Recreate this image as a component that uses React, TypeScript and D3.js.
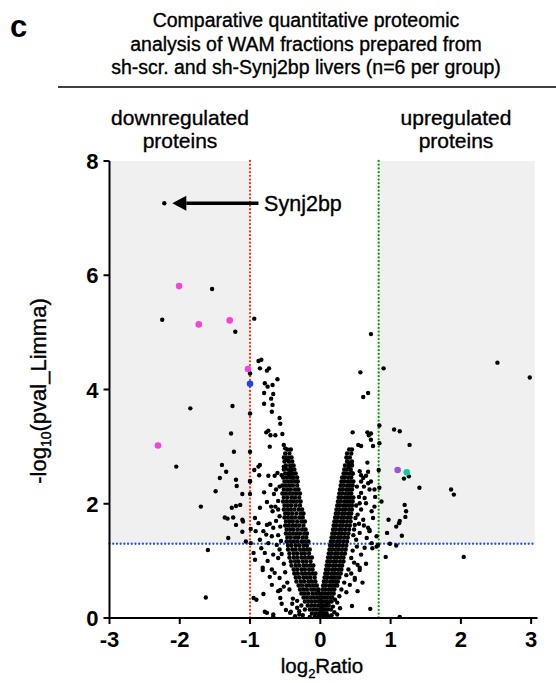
import * as d3 from "d3";

const xTicks = [-3, -2, -1, 0, 1, 2, 3];
const yTicks = [0, 2, 4, 6, 8];
const downCut = -1;
const upCut = 0.83;
const pCut = 1.3;

const titleLines = [
  "Comparative quantitative proteomic",
  "analysis of WAM fractions prepared from",
  "sh-scr. and sh-Synj2bp livers (n=6 per group)",
];

const synj2bp: [number, number] = [-2.22, 7.26];
const magentaHits: [number, number][] = [[-2.01, 5.81], [-1.73, 5.14], [-1.29, 5.21], [-1.03, 4.36], [-2.31, 3.02]];
const blueHits: [number, number][] = [[-1.0, 4.1]];
const purpleHits: [number, number][] = [[1.1, 2.59]];
const tealHits: [number, number][] = [[1.23, 2.55]];

// loose points outside the dense V
const scattered: [number, number][] = [
  [-1.54, 5.76], [-2.25, 5.22], [-1.21, 5.01], [-0.94, 5.24], [-1.0, 4.28], [-1.85, 3.67], [-1.25, 3.71],
  [-1.27, 3.23], [-1.23, 2.91], [-2.05, 2.65], [-1.4, 2.68], [-1.34, 2.56], [-1.43, 2.45], [-1.2, 2.42],
  [-1.19, 2.31], [-1.49, 2.22], [-1.11, 2.17], [-1.0, 2.91], [-1.0, 3.58], [-1.0, 2.4], [-1.0, 2.17],
  [-1.7, 1.95], [-1.26, 1.93], [-1.2, 1.96], [-1.14, 1.98], [-1.36, 1.76], [-1.32, 1.74], [-1.24, 1.76],
  [-1.2, 1.63], [-1.11, 1.72], [-1.1, 1.69], [-1.11, 1.51], [-1.31, 1.4], [-1.06, 1.34], [-1.6, 1.19],
  [-1.63, 0.36], [-0.99, 1.56], [-0.99, 1.31],
  [-0.88, 4.5], [-0.84, 4.52], [-0.86, 4.37], [-0.76, 4.33], [-0.73, 4.37], [-0.61, 4.18], [-0.79, 4.11],
  [-0.75, 4.05], [-0.68, 4.08], [-0.8, 3.94], [-0.67, 3.92], [-0.7, 3.84], [-0.8, 3.75], [-0.68, 3.73],
  [-0.69, 3.61], [-0.58, 3.5], [-0.57, 3.4], [-0.77, 3.25], [-0.74, 3.28], [-0.71, 3.2], [-0.64, 3.2],
  [-0.54, 3.22], [-0.72, 3.0], [-0.52, 3.03], [-0.5, 2.97], [-0.52, 2.81], [-0.48, 2.78], [-0.45, 2.8],
  [-0.86, 2.68], [-0.88, 2.65], [-0.94, 2.59], [-0.52, 2.65], [-0.5, 2.62], [-0.42, 2.66], [-0.41, 2.59],
  [-0.61, 2.54], [-0.55, 2.5], [-0.43, 2.54], [-0.44, 2.49], [-0.87, 2.5], [-0.74, 2.49], [-0.65, 2.49],
  [-0.39, 2.46],
  [-1.0, 2.39], [-0.66, 2.17], [-0.76, 2.03], [-0.86, 1.93], [-0.68, 1.87], [-0.6, 1.9], [-0.93, 1.75],
  [-0.88, 1.66], [-0.76, 1.63], [-0.72, 1.65], [-0.67, 1.58], [-0.81, 1.52], [-0.92, 1.52], [-0.77, 1.46],
  [-0.69, 1.43], [-0.86, 1.37], [-0.74, 1.31], [-0.62, 1.28], [-0.95, 1.14], [-0.79, 1.14], [-0.67, 1.11],
  [-0.6, 1.05], [-0.93, 1.02], [-0.82, 0.88], [-0.69, 0.85], [-0.65, 0.79], [-0.58, 0.7], [-0.69, 0.58],
  [-0.81, 0.42], [-0.6, 0.47], [-0.57, 0.35], [-0.67, 0.06], [-0.76, 0.09], [-0.43, 0.09], [-0.95, 0.35],
  [-0.91, 0.32], [-0.79, 0.11], [-0.67, 0.02], [-0.82, 0.84], [-0.57, 0.49], [-0.49, 0.14], [-0.42, 0.11],
  [-0.39, 0.34],
  [-0.58, 2.3], [-0.63, 2.25], [-0.6, 2.05], [-0.64, 1.95], [-0.58, 1.78], [-0.63, 1.7], [-0.57, 1.6],
  [-0.6, 1.45], [-0.56, 1.35], [-0.58, 1.2], [-0.55, 1.12], [-0.52, 0.95], [-0.5, 0.8], [-0.47, 0.62],
  [-0.44, 0.5], [-0.52, 0.55], [-0.4, 0.25], [-0.33, 0.18], [-0.3, 0.06], [-0.36, 0.03], [-0.55, 0.25],
  [-0.72, 0.72], [-0.75, 1.0], [-0.84, 1.22], [-0.7, 1.95], [-0.8, 2.2], [-0.71, 2.33],
  [-0.3, 0.12], [-0.25, 0.05], [-0.22, 0.15], [-0.27, 0.22], [-0.15, 0.02], [-0.33, 0.3],
  [0.57, 4.3], [0.9, 4.37], [0.68, 3.94], [0.61, 3.87], [0.84, 3.37], [1.05, 3.3], [1.13, 3.27], [0.46, 3.25],
  [0.67, 3.25], [0.72, 3.23], [0.69, 3.2], [0.72, 3.12], [0.84, 3.06], [0.54, 3.03], [0.58, 3.01], [0.75, 3.01],
  [0.45, 2.95], [0.38, 2.74], [0.42, 2.7], [0.45, 2.68], [0.67, 2.72], [0.4, 2.62], [0.43, 2.59], [0.56, 2.57],
  [0.68, 2.56], [0.83, 2.59], [0.46, 2.53], [0.58, 2.5], [0.65, 2.49], [0.61, 2.45],
  [0.72, 4.97], [2.52, 4.47], [2.98, 4.21], [1.27, 3.03], [1.26, 2.48], [1.19, 2.44], [1.41, 2.28],
  [1.86, 2.25], [1.9, 2.16], [0.84, 2.28], [0.87, 2.04], [0.78, 2.12], [1.2, 1.98], [1.22, 1.87], [1.21, 1.77],
  [0.97, 1.72], [1.13, 1.7], [1.12, 1.66], [1.08, 1.6], [0.95, 1.49], [1.16, 1.44], [0.99, 1.3], [1.08, 1.27],
  [0.93, 1.07], [2.04, 1.07], [1.13, 0.02], [0.71, 0.16], [0.45, 0.21],
  [0.72, 2.39], [0.68, 2.36], [0.77, 2.25], [0.58, 2.19], [0.63, 2.1], [0.65, 2.01], [0.73, 1.87], [0.68, 1.58],
  [0.7, 1.52], [0.8, 1.43], [0.82, 1.28], [0.73, 1.31], [0.63, 1.23], [0.58, 1.11], [0.53, 0.93], [0.56, 0.88],
  [0.49, 0.7], [0.42, 0.58], [0.53, 0.47], [0.7, 1.54], [0.74, 1.22], [0.8, 1.25], [0.56, 0.84], [0.49, 0.67],
  [0.28, 0.17], [-0.03, 0.49], [0.58, 2.39], [0.7, 2.25], [0.56, 2.01], [0.53, 1.81], [0.61, 1.72], [0.49, 1.63],
  [0.56, 1.49], [0.51, 1.37],
  [0.52, 2.3], [0.55, 2.12], [0.51, 1.97], [0.58, 1.9], [0.5, 1.75], [0.55, 1.65], [0.48, 1.55], [0.62, 1.62],
  [0.47, 1.45], [0.52, 1.25], [0.46, 1.18], [0.44, 1.05], [0.48, 0.97], [0.4, 0.85], [0.37, 0.75], [0.44, 0.78],
  [0.34, 0.62], [0.3, 0.5], [0.37, 0.45], [0.27, 0.38], [0.24, 0.27], [0.2, 0.1], [0.16, 0.05], [0.24, 0.06],
  [0.6, 0.62], [0.65, 0.95], [0.66, 1.4], [0.75, 1.75], [0.77, 1.95], [0.62, 2.3],
  [0.15, 0.15], [0.12, 0.03], [0.18, 0.2], [0.1, 0.25], [0.21, 0.32],
];

// dense arms of the V: [pval, ...ratios]
const leftArmRows: number[][] = [
  [2.95, -0.47, -0.42],
  [2.88, -0.5, -0.44],
  [2.81, -0.48, -0.41],
  [2.74, -0.51, -0.45, -0.4],
  [2.67, -0.49, -0.43, -0.38],
  [2.6, -0.52, -0.46, -0.41, -0.37],
  [2.53, -0.5, -0.45, -0.4, -0.35],
  [2.46, -0.53, -0.48, -0.43, -0.38, -0.33],
  [2.39, -0.51, -0.46, -0.41, -0.36, -0.32],
  [2.32, -0.54, -0.49, -0.44, -0.39, -0.33],
  [2.25, -0.52, -0.47, -0.42, -0.36, -0.31],
  [2.18, -0.54, -0.49, -0.44, -0.39, -0.34, -0.29],
  [2.11, -0.52, -0.47, -0.41, -0.36, -0.3],
  [2.04, -0.53, -0.48, -0.43, -0.38, -0.33, -0.28],
  [1.97, -0.51, -0.46, -0.41, -0.35, -0.29],
  [1.9, -0.52, -0.47, -0.42, -0.37, -0.31, -0.26],
  [1.83, -0.5, -0.45, -0.4, -0.34, -0.28, -0.24],
  [1.76, -0.51, -0.46, -0.41, -0.36, -0.3, -0.25],
  [1.69, -0.49, -0.44, -0.39, -0.33, -0.27, -0.22],
  [1.62, -0.5, -0.45, -0.4, -0.35, -0.3, -0.24],
  [1.55, -0.48, -0.43, -0.38, -0.32, -0.26, -0.21],
  [1.48, -0.49, -0.44, -0.39, -0.34, -0.29, -0.23, -0.19],
  [1.41, -0.47, -0.42, -0.36, -0.31, -0.25, -0.2],
  [1.34, -0.48, -0.43, -0.38, -0.33, -0.27, -0.22, -0.17],
  [1.27, -0.46, -0.41, -0.35, -0.3, -0.24, -0.19],
  [1.2, -0.46, -0.4, -0.35, -0.29, -0.24, -0.19, -0.15],
  [1.13, -0.44, -0.38, -0.33, -0.27, -0.22, -0.16],
  [1.06, -0.44, -0.38, -0.33, -0.27, -0.22, -0.17, -0.12],
  [0.99, -0.42, -0.36, -0.31, -0.25, -0.2, -0.14],
  [0.92, -0.41, -0.35, -0.3, -0.24, -0.19, -0.14, -0.1],
  [0.85, -0.38, -0.33, -0.27, -0.22, -0.16, -0.11],
  [0.78, -0.37, -0.32, -0.26, -0.21, -0.16, -0.11, -0.07],
  [0.71, -0.35, -0.3, -0.24, -0.19, -0.14, -0.08],
  [0.64, -0.34, -0.28, -0.23, -0.17, -0.12, -0.07],
  [0.57, -0.31, -0.26, -0.2, -0.15, -0.1, -0.05],
  [0.5, -0.29, -0.24, -0.19, -0.13, -0.08, -0.03],
  [0.43, -0.27, -0.22, -0.17, -0.11, -0.06, -0.01],
  [0.36, -0.24, -0.19, -0.14, -0.09, -0.04, 0.0],
  [0.29, -0.22, -0.17, -0.12, -0.07, -0.02, 0.01],
  [0.22, -0.18, -0.13, -0.08, -0.03, 0.02],
  [0.15, -0.15, -0.1, -0.05, 0.0, 0.03],
  [0.08, -0.12, -0.07, -0.02, 0.03],
  [0.02, -0.08, -0.03, 0.02, 0.05],
];

const rightArmRows: number[][] = [
  [2.95, 0.41],
  [2.88, 0.38, 0.44],
  [2.81, 0.37, 0.42],
  [2.74, 0.39, 0.45],
  [2.67, 0.35, 0.4, 0.45],
  [2.6, 0.34, 0.38, 0.43],
  [2.53, 0.33, 0.37, 0.42, 0.46],
  [2.46, 0.31, 0.35, 0.4, 0.44],
  [2.39, 0.3, 0.34, 0.39, 0.43, 0.47],
  [2.32, 0.29, 0.33, 0.38, 0.42, 0.46],
  [2.25, 0.28, 0.32, 0.37, 0.41, 0.45],
  [2.18, 0.27, 0.31, 0.36, 0.4, 0.44],
  [2.11, 0.26, 0.3, 0.35, 0.39, 0.43, 0.47],
  [2.04, 0.25, 0.29, 0.34, 0.38, 0.42, 0.46],
  [1.97, 0.24, 0.28, 0.33, 0.37, 0.41, 0.45],
  [1.9, 0.23, 0.27, 0.32, 0.36, 0.41, 0.45],
  [1.83, 0.22, 0.26, 0.31, 0.35, 0.4, 0.44],
  [1.76, 0.21, 0.25, 0.3, 0.34, 0.39, 0.43],
  [1.69, 0.2, 0.24, 0.29, 0.33, 0.38, 0.43],
  [1.62, 0.19, 0.23, 0.28, 0.32, 0.37, 0.42],
  [1.55, 0.18, 0.22, 0.27, 0.31, 0.36, 0.41],
  [1.48, 0.17, 0.21, 0.26, 0.3, 0.35, 0.4],
  [1.41, 0.16, 0.2, 0.25, 0.29, 0.34, 0.39],
  [1.34, 0.15, 0.19, 0.24, 0.28, 0.33, 0.38],
  [1.27, 0.14, 0.18, 0.23, 0.27, 0.32, 0.37],
  [1.2, 0.13, 0.17, 0.22, 0.26, 0.31, 0.36],
  [1.13, 0.12, 0.16, 0.21, 0.25, 0.3, 0.35],
  [1.06, 0.11, 0.15, 0.2, 0.24, 0.29, 0.33],
  [0.99, 0.1, 0.14, 0.19, 0.23, 0.28, 0.33],
  [0.92, 0.09, 0.13, 0.18, 0.22, 0.27, 0.31],
  [0.85, 0.08, 0.12, 0.17, 0.21, 0.26, 0.3],
  [0.78, 0.07, 0.11, 0.16, 0.2, 0.25, 0.29],
  [0.71, 0.06, 0.1, 0.15, 0.19, 0.23, 0.27],
  [0.64, 0.05, 0.09, 0.14, 0.18, 0.22, 0.25],
  [0.57, 0.04, 0.08, 0.13, 0.17, 0.21, 0.24],
  [0.5, 0.03, 0.07, 0.12, 0.16, 0.2],
  [0.43, 0.03, 0.07, 0.11, 0.15, 0.19],
  [0.36, 0.02, 0.06, 0.1, 0.14, 0.17],
  [0.29, 0.01, 0.05, 0.09, 0.13, 0.16],
  [0.22, 0.01, 0.04, 0.08, 0.12],
  [0.15, 0.0, 0.04, 0.07, 0.1],
  [0.08, 0.0, 0.03, 0.06, 0.09],
  [0.02, -0.02, 0.02, 0.05, 0.08],
];

const WIDTH = 556;
const HEIGHT = 683;
const FONT = "'Liberation Sans', Arial, Helvetica, sans-serif";

function rowsToPoints(rows: number[][]) {
  const out: [number, number][] = [];
  rows.forEach(r => r.slice(1).forEach(x => out.push([x, r[0]])));
  return out;
}

export default function App() {
  const x = d3.scaleLinear().domain([-3, 3.09]).range([109.5, 537.5]);
  const y = d3.scaleLinear().domain([0, 8]).range([618, 161]);

  const blackPts = [...scattered, ...rowsToPoints(leftArmRows), ...rowsToPoints(rightArmRows), synj2bp];
  const coloured: { pts: [number, number][]; color: string }[] = [
    { pts: magentaHits, color: "#f542d8" },
    { pts: blueHits, color: "#1049f2" },
    { pts: purpleHits, color: "#9b57d3" },
    { pts: tealHits, color: "#17c7a0" },
  ];

  const sx = x(synj2bp[0]);
  const sy = y(synj2bp[1]);
  const heavy = { stroke: "#000", strokeWidth: 0.35 };
  const dotted = { strokeWidth: 2.3, strokeDasharray: "0.01 3.7", strokeLinecap: "round" as const };

  return (
    <div style={{ position: "absolute", left: 0, top: 0 }}>
      <svg width={WIDTH} height={HEIGHT} style={{ display: "block", fontFamily: FONT }}>
        <rect width={WIDTH} height={HEIGHT} fill="#fff" />
        <text x={10} y={37} fontSize={31} fontWeight={700}>c</text>
        {titleLines.map((t, i) => (
          <text key={i} x={306} y={27 + i * 23.5} fontSize={19.5} textAnchor="middle" {...heavy}>{t}</text>
        ))}
        <line x1={58} x2={556} y1={87} y2={87} stroke="#000" strokeWidth={1.5} />

        <text x={180} y={125} fontSize={21} textAnchor="middle" {...heavy}>downregulated</text>
        <text x={180} y={148} fontSize={21} textAnchor="middle" {...heavy}>proteins</text>
        <text x={456} y={125} fontSize={21} textAnchor="middle" {...heavy}>upregulated</text>
        <text x={456} y={148} fontSize={21} textAnchor="middle" {...heavy}>proteins</text>

        {/* shaded significant zones */}
        <rect x={x(-3)} y={y(8)} width={x(downCut) - x(-3)} height={y(pCut) - y(8)} fill="#f0f0f0" />
        <rect x={x(upCut)} y={y(8)} width={x(3.05) - x(upCut)} height={y(pCut) - y(8)} fill="#f0f0f0" />

        <line x1={x(downCut)} x2={x(downCut)} y1={y(8)} y2={y(0)} stroke="#ff2e12" {...dotted} />
        <line x1={x(upCut)} x2={x(upCut)} y1={y(8)} y2={y(0)} stroke="#0c9c10" {...dotted} />
        <line x1={x(-3)} x2={x(3.05)} y1={y(pCut)} y2={y(pCut)} stroke="#2150ff" {...dotted} />

        {blackPts.map((d, i) => (
          <circle key={i} cx={x(d[0])} cy={y(d[1])} r={2.2} fill="#000" />
        ))}
        {coloured.map((c, j) =>
          c.pts.map((d, i) => <circle key={j + "-" + i} cx={x(d[0])} cy={y(d[1])} r={3.3} fill={c.color} />)
        )}

        {/* arrow to Synj2bp */}
        <line x1={sx + 22} x2={x(-0.88)} y1={sy} y2={sy} stroke="#000" strokeWidth={3.5} />
        <path d={`M${sx + 8},${sy} L${sx + 22},${sy - 7.5} L${sx + 22},${sy + 7.5} Z`} fill="#000" />
        <text x={x(-0.8)} y={sy + 7.5} fontSize={21.5} {...heavy}>Synj2bp</text>

        {/* axes */}
        <line x1={x(-3)} x2={x(-3)} y1={y(8)} y2={y(0)} stroke="#000" strokeWidth={2} />
        <line x1={x(-3) - 1} x2={x(3.09)} y1={y(0)} y2={y(0)} stroke="#000" strokeWidth={2} />
        {yTicks.map(t => (
          <g key={t}>
            <line x1={x(-3) - 6} x2={x(-3)} y1={y(t)} y2={y(t)} stroke="#000" strokeWidth={2} />
            <text x={x(-3) - 11} y={y(t) + 8} fontSize={22} fontWeight={700} textAnchor="end">{t}</text>
          </g>
        ))}
        {xTicks.map(t => (
          <g key={t}>
            <line x1={x(t)} x2={x(t)} y1={y(0)} y2={y(0) + 6} stroke="#000" strokeWidth={2} />
            <text x={x(t)} y={647} fontSize={22} fontWeight={700} textAnchor="middle">{t < 0 ? "-" + Math.abs(t) : t}</text>
          </g>
        ))}
        <text x={322} y={673} fontSize={20.5} textAnchor="middle" {...heavy}>
          log<tspan fontSize={13} dy={5}>2</tspan><tspan dy={-5}>Ratio</tspan>
        </text>
        <text transform="translate(46,391) rotate(-90)" fontSize={22} textAnchor="middle" {...heavy}>
          -log<tspan fontSize={14} dy={5}>10</tspan><tspan dy={-5}>(pval_Limma)</tspan>
        </text>
      </svg>
    </div>
  );
}
